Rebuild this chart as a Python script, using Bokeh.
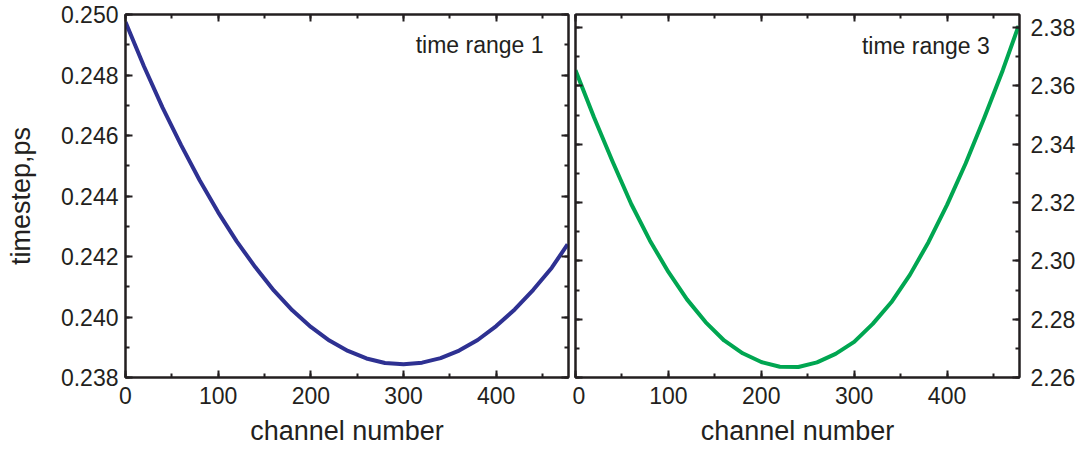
from bokeh.plotting import figure
from bokeh.layouts import row
from bokeh.models import (LinearAxis, SingleIntervalTicker, NumeralTickFormatter, Label,
                          Range1d, CustomJSTickFormatter)
from bokeh.embed import file_html
from bokeh.resources import INLINE

# ---- data ----
channels_1 = [0, 20, 40, 60, 80, 100, 120, 140, 160, 180, 200, 220, 240, 260, 280,
              300, 320, 340, 360, 380, 400, 420, 440, 460, 477]
timestep_1 = [0.24975, 0.24828, 0.24692, 0.24568, 0.24452, 0.24346, 0.24250, 0.24165,
              0.24088, 0.24022, 0.23967, 0.23922, 0.23888, 0.23863, 0.23848, 0.23844,
              0.23849, 0.23864, 0.23889, 0.23924, 0.23970, 0.24025, 0.24090, 0.24163,
              0.24240]

channels_3 = [0, 20, 40, 60, 80, 100, 120, 140, 160, 180, 200, 220, 240, 260, 280,
              300, 320, 340, 360, 380, 400, 420, 440, 460, 477]
timestep_3 = [2.3654, 2.3492, 2.3340, 2.3195, 2.3070, 2.2962, 2.2868, 2.2790, 2.2727,
              2.2683, 2.2653, 2.2637, 2.2636, 2.2652, 2.2681, 2.2722, 2.2784, 2.2858,
              2.2952, 2.3064, 2.3192, 2.3334, 2.3490, 2.3654, 2.3806]

label_1 = "time range 1"
label_3 = "time range 3"
x_label = "channel number"
y_label = "timestep,ps"

INK = "#231f20"
FONT = "Liberation Sans"
BLUE = "#2e3192"
GREEN = "#00a651"


def style_axis(ax, show_labels=True):
    ax.axis_line_color = INK
    ax.axis_line_width = 2
    ax.major_tick_line_color = INK
    ax.major_tick_line_width = 2
    ax.minor_tick_line_color = INK
    ax.minor_tick_line_width = 2
    ax.major_tick_in = 7
    ax.major_tick_out = 0
    ax.minor_tick_in = 4
    ax.minor_tick_out = 0
    ax.major_label_text_font = FONT
    ax.major_label_text_color = INK
    ax.axis_label_text_font = FONT
    ax.axis_label_text_color = INK
    ax.axis_label_text_font_style = "normal"
    ax.axis_label_text_font_size = "27px"
    ax.major_label_text_font_size = "23px"
    if not show_labels:
        ax.formatter = CustomJSTickFormatter(code="return ''")
        ax.major_label_text_font_size = "1px"
        ax.major_label_standoff = 0


def make_panel(xs, ys, color, yr, yint, yfmt, label, lx, ly, y_side, ml, mr):
    p = figure(frame_width=444 if y_side == "right" else 443, frame_height=363,
               x_range=Range1d(0, 478), y_range=Range1d(*yr),
               output_backend="svg", toolbar_location=None,
               x_axis_location=None, y_axis_location=None,
               min_border_left=ml, min_border_right=mr,
               min_border_top=14, min_border_bottom=40)
    p.grid.visible = False
    p.outline_line_color = INK
    p.outline_line_width = 2
    p.background_fill_color = "white"
    p.border_fill_color = "white"

    xt = SingleIntervalTicker(interval=100, num_minor_ticks=2)
    yt = SingleIntervalTicker(interval=yint, num_minor_ticks=2)

    xb = LinearAxis(ticker=xt, axis_label=x_label)
    style_axis(xb)
    xb.major_label_standoff = 9
    xb.axis_label_standoff = 9
    p.add_layout(xb, "below")

    xa = LinearAxis(ticker=xt)
    style_axis(xa, False)
    p.add_layout(xa, "above")

    ylab = LinearAxis(ticker=yt, formatter=NumeralTickFormatter(format=yfmt))
    style_axis(ylab)
    ylab.major_label_standoff = 7 if y_side == "left" else 11
    if y_side == "left":
        ylab.axis_label = y_label
        ylab.axis_label_standoff = 22
    p.add_layout(ylab, y_side)

    ynl = LinearAxis(ticker=yt)
    style_axis(ynl, False)
    p.add_layout(ynl, "right" if y_side == "left" else "left")

    p.line(xs, ys, line_color=color, line_width=4, line_join="round")
    p.add_layout(Label(x=lx, y=ly, text=label, text_align="right",
                       text_baseline="alphabetic", text_font=FONT,
                       text_font_size="23px", text_color=INK))
    return p


p1 = make_panel(channels_1, timestep_1, BLUE, (0.238, 0.250), 0.002, "0.000",
                label_1, 451, 0.24900, "left", 125, 4)
p2 = make_panel(channels_3, timestep_3, GREEN, (2.26, 2.3845), 0.02, "0.00",
                label_3, 446, 2.3737, "right", 3, 60)

layout = row(p1, p2, spacing=0)
open("out.html", "w").write(file_html(layout, INLINE))
